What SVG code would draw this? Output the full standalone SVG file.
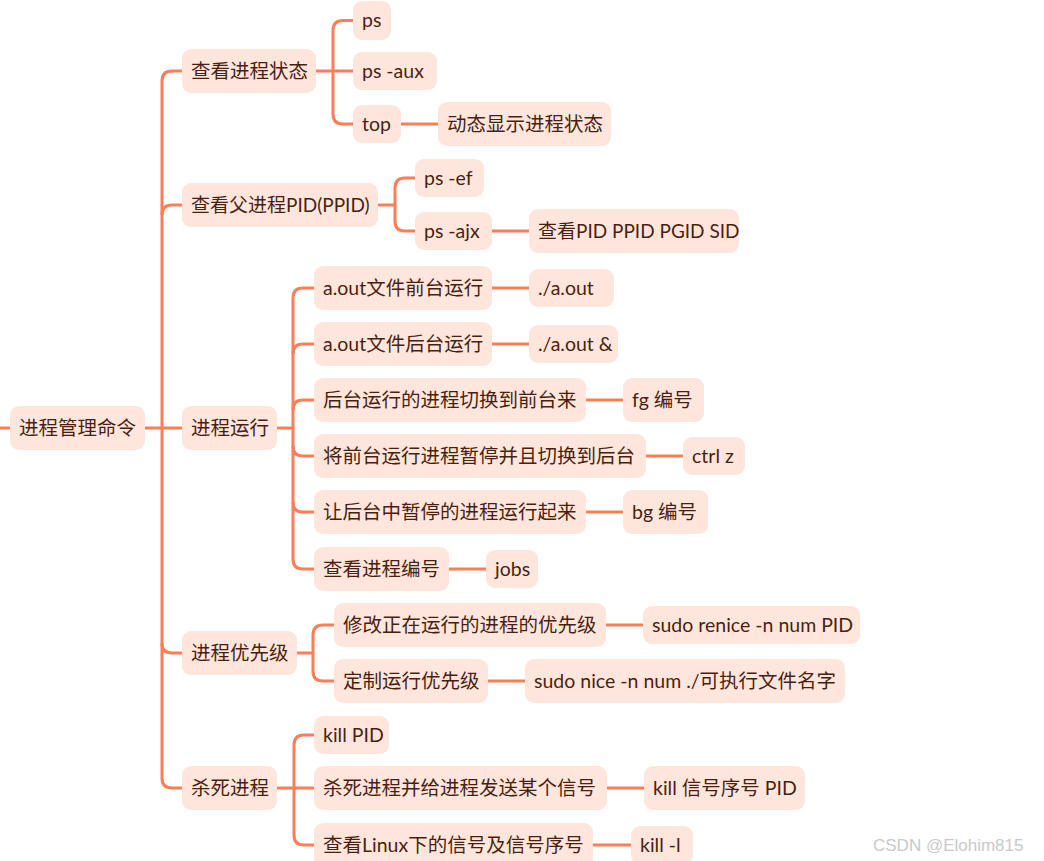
<svg xmlns="http://www.w3.org/2000/svg" width="1044" height="861" viewBox="0 0 1044 861">
<style>
.n rect{fill:#FFE6DC;}
.n text{font-family:Lato,"Noto Sans CJK SC",sans-serif;font-size:19.5px;fill:#4a1f10;}
.n text.s{font-size:19px;}
.c path{fill:none;stroke:#FA7F58;stroke-width:3;}
.wm{font-family:"Liberation Sans",Arial,sans-serif;font-size:17px;fill:#c9c9c9;}
</style>
<rect width="1044" height="861" fill="#ffffff"/>
<g class="c" id="connectors">
<path d="M0 428 H10"/>
<path d="M145 428 H182"/>
<path d="M182 71 H172 Q162 71 162 81 V778 Q162 788 172 788 H182"/>
<path d="M182 205 H172 Q162 205 162 215"/>
<path d="M162 643 Q162 653 172 653 H182"/>
<path d="M316 71 H353"/>
<path d="M353 20.5 H343 Q333 20.5 333 30.5 V114 Q333 124 343 124 H353"/>
<path d="M401 124 H438"/>
<path d="M378 205 H395"/>
<path d="M415 178 H405 Q395 178 395 188 V221 Q395 231 405 231 H415"/>
<path d="M492 231 H529"/>
<path d="M277 428 H293"/>
<path d="M314 288 H303 Q293 288 293 298 V559 Q293 569 303 569 H314"/>
<path d="M314 344 H303 Q293 344 293 354"/>
<path d="M314 400 H303 Q293 400 293 410"/>
<path d="M293 446 Q293 456 303 456 H314"/>
<path d="M293 502 Q293 512 303 512 H314"/>
<path d="M492 288 H529"/>
<path d="M492 344 H529"/>
<path d="M586 400 H623"/>
<path d="M646 456 H683"/>
<path d="M586 512 H623"/>
<path d="M449 569 H486"/>
<path d="M297 653 H313"/>
<path d="M334 625 H323 Q313 625 313 635 V671 Q313 681 323 681 H334"/>
<path d="M606 625 H643"/>
<path d="M488 681 H525"/>
<path d="M277 788 H314"/>
<path d="M314 735 H304 Q294 735 294 745 V835 Q294 845 304 845 H314"/>
<path d="M607 788 H644"/>
<path d="M593 845 H631"/>
</g>
<g class="n" id="root"><rect x="10" y="406" width="135" height="44" rx="9"/><text x="19" y="435">进程管理命令</text></g>
<g class="n" id="n1"><rect x="182" y="49" width="134" height="44" rx="9"/><text x="191" y="78">查看进程状态</text></g>
<g class="n" id="n1a"><rect x="353" y="1" width="38" height="39" rx="9"/><text x="362" y="27">ps</text></g>
<g class="n" id="n1b"><rect x="353" y="52" width="84" height="38" rx="9"/><text x="362" y="78">ps -aux</text></g>
<g class="n" id="n1c"><rect x="353" y="105" width="48" height="38" rx="9"/><text x="362" y="131">top</text></g>
<g class="n" id="n1c1"><rect x="438" y="102" width="173" height="44" rx="9"/><text x="447" y="131">动态显示进程状态</text></g>
<g class="n" id="n2"><rect x="182" y="183" width="196" height="44" rx="9"/><text class="s" x="191" y="212">查看父进程PID(PPID)</text></g>
<g class="n" id="n2a"><rect x="415" y="159" width="69" height="38" rx="9"/><text x="424" y="185">ps -ef</text></g>
<g class="n" id="n2b"><rect x="415" y="212" width="77" height="38" rx="9"/><text x="424" y="238">ps -ajx</text></g>
<g class="n" id="n2b1"><rect x="529" y="209" width="210" height="44" rx="9"/><text class="s" x="538" y="238">查看PID PPID PGID SID</text></g>
<g class="n" id="n3"><rect x="182" y="406" width="95" height="44" rx="9"/><text x="191" y="435">进程运行</text></g>
<g class="n" id="n3a"><rect x="314" y="266" width="178" height="44" rx="9"/><text x="323" y="295">a.out文件前台运行</text></g>
<g class="n" id="n3a1"><rect x="529" y="269" width="85" height="38" rx="9"/><text x="538" y="295">./a.out</text></g>
<g class="n" id="n3b"><rect x="314" y="322" width="178" height="44" rx="9"/><text x="323" y="351">a.out文件后台运行</text></g>
<g class="n" id="n3b1"><rect x="529" y="325" width="89" height="38" rx="9"/><text x="538" y="351">./a.out &amp;</text></g>
<g class="n" id="n3c"><rect x="314" y="378" width="272" height="44" rx="9"/><text x="323" y="407">后台运行的进程切换到前台来</text></g>
<g class="n" id="n3c1"><rect x="623" y="378" width="81" height="44" rx="9"/><text x="632" y="407">fg 编号</text></g>
<g class="n" id="n3d"><rect x="314" y="434" width="332" height="44" rx="9"/><text x="323" y="463">将前台运行进程暂停并且切换到后台</text></g>
<g class="n" id="n3d1"><rect x="683" y="437" width="62" height="38" rx="9"/><text x="692" y="463">ctrl z</text></g>
<g class="n" id="n3e"><rect x="314" y="490" width="272" height="44" rx="9"/><text x="323" y="519">让后台中暂停的进程运行起来</text></g>
<g class="n" id="n3e1"><rect x="623" y="490" width="85" height="44" rx="9"/><text x="632" y="519">bg 编号</text></g>
<g class="n" id="n3f"><rect x="314" y="547" width="135" height="44" rx="9"/><text x="323" y="576">查看进程编号</text></g>
<g class="n" id="n3f1"><rect x="486" y="550" width="52" height="38" rx="9"/><text x="495" y="576">jobs</text></g>
<g class="n" id="n4"><rect x="182" y="631" width="115" height="44" rx="9"/><text x="191" y="660">进程优先级</text></g>
<g class="n" id="n4a"><rect x="334" y="603" width="272" height="44" rx="9"/><text x="343" y="632">修改正在运行的进程的优先级</text></g>
<g class="n" id="n4a1"><rect x="643" y="606" width="217" height="38" rx="9"/><text x="652" y="632">sudo renice -n num PID</text></g>
<g class="n" id="n4b"><rect x="334" y="659" width="154" height="44" rx="9"/><text x="343" y="688">定制运行优先级</text></g>
<g class="n" id="n4b1"><rect x="525" y="659" width="320" height="44" rx="9"/><text x="534" y="688">sudo nice -n num ./可执行文件名字</text></g>
<g class="n" id="n5"><rect x="182" y="766" width="95" height="44" rx="9"/><text x="191" y="795">杀死进程</text></g>
<g class="n" id="n5a"><rect x="314" y="716" width="75" height="38" rx="9"/><text x="323" y="742">kill PID</text></g>
<g class="n" id="n5b"><rect x="314" y="766" width="293" height="44" rx="9"/><text x="323" y="795">杀死进程并给进程发送某个信号</text></g>
<g class="n" id="n5b1"><rect x="644" y="766" width="161" height="44" rx="9"/><text x="653" y="795">kill 信号序号 PID</text></g>
<g class="n" id="n5c"><rect x="314" y="823" width="279" height="44" rx="9"/><text x="323" y="852">查看Linux下的信号及信号序号</text></g>
<g class="n" id="n5c1"><rect x="631" y="826" width="62" height="38" rx="9"/><text x="640" y="852">kill -l</text></g>
<text class="wm" x="873" y="851">CSDN @Elohim815</text>
</svg>
